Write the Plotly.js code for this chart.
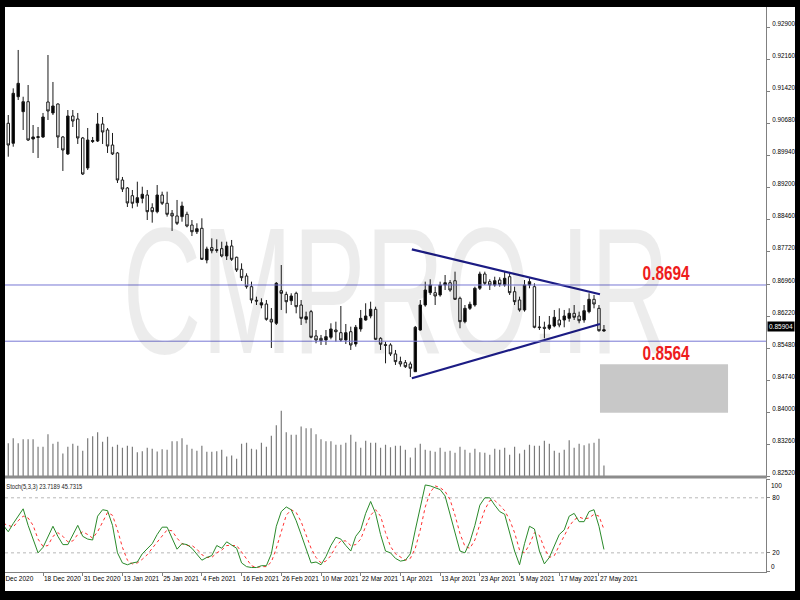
<!DOCTYPE html>
<html><head><meta charset="utf-8">
<script src="https://cdn.plot.ly/plotly-3.0.1.min.js"></script>
<style>html,body{margin:0;padding:0;background:#000;}#chart{width:800px;height:600px;}</style>
</head><body><div id="chart"></div>
<script>
// ---- data (EURGBP daily) ----
const decDays = ["08","09","10","11","14","15","16","17","18","21","22","23","24","28","29","30","31"];
const janDays = ["04","05","06","07","08","11","12","13","14","15","18","19","20","21","22","25","26","27","28","29"];
const febDays = ["01","02","03","04","05","08","09","10","11","12","15","16","17","18","19","22","23","24","25","26"];
const marDays = ["01","02","03","04","05","08","09","10","11","12","15","16","17","18","19","22","23","24","25","26","29","30","31"];
const aprDays = ["01","02","05","06","07","08","09","12","13","14","15","16","19","20","21","22","23","26","27","28","29","30"];
const mayDays = ["03","04","05","06","07","10","11","12","13","14","17","18","19","20","21","24","25","26","27","28"];
const dates = [].concat(
  decDays.map(d=>"2020-12-"+d), janDays.map(d=>"2021-01-"+d), febDays.map(d=>"2021-02-"+d),
  marDays.map(d=>"2021-03-"+d), aprDays.map(d=>"2021-04-"+d), mayDays.map(d=>"2021-05-"+d));

const tickDates  = ["2020-12-08","2020-12-18","2020-12-31","2021-01-13","2021-01-25","2021-02-04","2021-02-16","2021-02-26","2021-03-10","2021-03-22","2021-04-01","2021-04-13","2021-04-23","2021-05-05","2021-05-17","2021-05-27"];
const tickLabels = ["8 Dec 2020","18 Dec 2020","31 Dec 2020","13 Jan 2021","25 Jan 2021","4 Feb 2021","16 Feb 2021","26 Feb 2021","10 Mar 2021","22 Mar 2021","1 Apr 2021","13 Apr 2021","23 Apr 2021","5 May 2021","17 May 2021","27 May 2021"];

const open = [0.90571,0.90680,0.90217,0.91294,0.90948,0.91179,0.90316,0.90374,0.90363,0.91172,
0.90918,0.91126,0.90363,0.89970,0.90848,0.90779,0.90340,0.89646,0.90258,0.90270,
0.90663,0.90525,0.90177,0.89993,0.89368,0.89183,0.89005,0.88843,0.88945,0.89021,
0.88727,0.88635,0.89021,0.88830,0.88598,0.88536,0.88520,0.88575,0.88327,0.88172,
0.88251,0.87518,0.87803,0.87756,0.87780,0.87611,0.87842,0.87581,0.87303,0.87148,
0.86901,0.86586,0.86477,0.86500,0.86146,0.86054,0.86808,0.86724,0.86577,0.86748,
0.86477,0.86146,0.86323,0.85761,0.85707,0.85668,0.85731,0.85899,0.85837,0.85668,
0.85860,0.85576,0.85923,0.86130,0.86223,0.86378,0.85707,0.85560,0.85553,0.85345,
0.85167,0.85144,0.85113,0.84935,0.85899,0.86477,0.86762,0.86762,0.86709,0.86940,
0.86993,0.87039,0.86632,0.86091,0.86401,0.86477,0.86864,0.87194,0.87017,0.86940,
0.87055,0.86940,0.87132,0.86785,0.86593,0.86362,0.86940,0.86901,0.85969,0.85962,
0.85939,0.85992,0.86130,0.86130,0.86169,0.86285,0.86223,0.86130,0.86323,0.86609,
0.86401,0.85876];
const high = [0.90802,0.90871,0.91488,0.92375,0.91294,0.91565,0.90640,0.90594,0.90918,0.92259,
0.91635,0.91140,0.90386,0.90987,0.90987,0.90918,0.90363,0.90571,0.90363,0.90918,
0.90825,0.90571,0.90456,0.90016,0.89438,0.89206,0.89137,0.89329,0.89213,0.89137,
0.88830,0.89252,0.89098,0.89098,0.88674,0.88906,0.88867,0.88635,0.88443,0.88367,
0.88482,0.87826,0.88019,0.87996,0.87941,0.87941,0.87981,0.87595,0.87441,0.87210,
0.87017,0.86670,0.86632,0.86593,0.86408,0.87009,0.87402,0.86785,0.86748,0.86785,
0.86593,0.86323,0.86362,0.85899,0.85784,0.85899,0.86054,0.86091,0.86454,0.86038,
0.85976,0.86015,0.86362,0.86517,0.86554,0.86438,0.85731,0.85629,0.85592,0.85437,
0.85282,0.85205,0.85167,0.85992,0.86593,0.87017,0.87072,0.86901,0.87017,0.87171,
0.87055,0.87248,0.86670,0.86477,0.86554,0.86901,0.87248,0.87248,0.87072,0.87132,
0.87118,0.87248,0.87210,0.86901,0.86670,0.87055,0.87095,0.86979,0.86223,0.86091,
0.86223,0.86362,0.86401,0.86362,0.86401,0.86477,0.86323,0.86477,0.86748,0.86709,
0.86477,0.86015];
const low = [0.90456,0.89907,0.90138,0.91218,0.90525,0.90270,0.89993,0.89877,0.90340,0.90756,
0.90871,0.90108,0.89577,0.89947,0.90594,0.90201,0.89484,0.89600,0.90224,0.90247,
0.90201,0.89993,0.89947,0.89299,0.89091,0.88744,0.88714,0.88751,0.88830,0.88443,
0.88381,0.88598,0.88790,0.88520,0.88189,0.88327,0.88404,0.88274,0.88073,0.88119,
0.87518,0.87441,0.87673,0.87687,0.87581,0.87518,0.87495,0.87241,0.87032,0.86855,
0.86517,0.86477,0.86401,0.86114,0.85483,0.86015,0.86362,0.86285,0.86477,0.86285,
0.86015,0.86054,0.85707,0.85592,0.85553,0.85553,0.85684,0.85629,0.85629,0.85576,
0.85437,0.85514,0.85860,0.86114,0.86169,0.85668,0.85437,0.85129,0.85298,0.85090,
0.85051,0.85021,0.84813,0.84928,0.85883,0.86438,0.86709,0.86477,0.86670,0.86824,
0.86785,0.86593,0.85939,0.86054,0.86362,0.86438,0.86824,0.86940,0.86824,0.86901,
0.86901,0.86901,0.86709,0.86477,0.86323,0.86323,0.86864,0.85939,0.85899,0.85707,
0.85899,0.85962,0.85962,0.85962,0.86091,0.86130,0.86054,0.86068,0.86285,0.86401,
0.85860,0.85860];
const close = [0.90687,0.90177,0.91373,0.91604,0.91179,0.90293,0.90363,0.90351,0.90825,0.90964,
0.91080,0.90363,0.90062,0.90848,0.90733,0.90340,0.89507,0.90293,0.90281,0.90663,
0.90478,0.90154,0.89970,0.89368,0.89160,0.88837,0.88830,0.88959,0.89038,0.88635,
0.88635,0.89021,0.88830,0.88575,0.88536,0.88367,0.88767,0.88304,0.88172,0.88242,
0.87534,0.87772,0.87733,0.87742,0.87611,0.87842,0.87534,0.87287,0.87109,0.86901,
0.86593,0.86570,0.86530,0.86146,0.86084,0.86979,0.86748,0.86553,0.86686,0.86438,
0.86169,0.86207,0.85731,0.85668,0.85652,0.85745,0.85923,0.85860,0.85668,0.85837,
0.85553,0.85962,0.86169,0.86223,0.86378,0.85684,0.85569,0.85546,0.85345,0.85167,
0.85113,0.85051,0.85014,0.85962,0.86477,0.86824,0.86940,0.86686,0.86940,0.86993,
0.86824,0.86609,0.86091,0.86401,0.86493,0.86864,0.87194,0.86979,0.86940,0.87039,
0.86956,0.87095,0.86762,0.86554,0.86362,0.86940,0.87017,0.85962,0.85955,0.85939,
0.86015,0.86193,0.86015,0.86223,0.86285,0.86193,0.86114,0.86346,0.86609,0.86500,
0.85883,0.85904];
const volume = [100,100,115,100,112,112,112,89,89,127,98,104,69,89,98,92,77,115,121,133,
104,119,89,95,86,92,89,73,76,86,83,75,82,80,106,106,115,95,83,77,
92,74,74,76,80,60,63,53,98,101,83,81,101,89,122,154,197,133,125,125,
150,145,145,127,112,106,106,95,95,101,125,104,86,107,101,101,86,95,88,92,
92,80,57,86,98,80,77,74,86,74,77,71,89,80,71,83,73,71,65,83,
80,86,65,89,69,80,95,92,92,107,98,77,71,80,109,86,98,94,99,101,
113,33];
const stochK = [50,43,52,60,68,50,35,20,26,38, 49,38,29,29,40,50,38,35,34,60,
67,66,50,20,9,7,9,10,19,25, 30,40,48,48,36,24,30,29,25,18,
12,15,17,28,25,32,28,25,9,5, 4,4,6,6,19,49,65,70,67,55,
40,25,9,10,7,16,28,37,35,28, 22,38,45,63,76,63,40,22,20,14,
11,12,19,45,70,94,93,91,89,82, 62,40,22,20,32,50,72,80,80,72,
65,62,41,22,7,30,49,46,22,8, 15,28,40,45,60,63,54,54,65,67,
49,23.7189];
const stochD = [52,50,48,55,60,58,50,35,27,28, 38,42,38,32,33,40,43,40,36,43,
54,64,61,45,26,12,8,9,13,18, 25,32,39,45,44,36,30,28,28,24,
18,15,15,20,23,28,28,28,21,13, 6,4,5,5,10,25,44,61,67,64,
54,40,25,15,9,11,17,27,33,33, 28,29,35,49,61,67,60,42,27,19,
15,12,14,25,45,70,86,93,91,87, 78,61,41,27,25,34,51,67,77,77,
72,66,56,42,23,20,29,42,39,25, 15,17,28,38,49,56,59,57,58,62,
60,45.7315];
const priceTicks = [0.82520,0.83260,0.84000,0.84740,0.85480,0.86220,0.86960,0.87720,0.88460,0.89200,0.89940,0.90680,0.91420,0.92160,0.92900];
const stochTicks = [0,20,80,100];
const stochTickText = ["0","20","80","100"];
const stochLevels = [20,80];
const levels = [0.8694, 0.8564];
const levelLabels = ["0.8694","0.8564"];
const levelLabelY = [0.87234, 0.85390];
const trendUpper = {x:[82.3,120.2], y:[0.87765,0.86725]};
const trendLower = {x:[82.3,120.2], y:[0.84782,0.86038]};
const zone = {x:[120.2,146.0], y:[0.83987,0.85106]};
const lastPrice = 0.85904;
const stochTitle = "Stoch(5,3,3) 23.7189 45.7315";
const watermark = "CMPRO.IR";

// ---- build ----
const idx = dates.map((d,i)=>i);
const tickIdx = tickDates.map(d=>dates.indexOf(d));
const sans = "Liberation Sans, Arial, sans-serif";

const traces = [
  {type:'bar', x:idx, y:volume, xaxis:'x', yaxis:'y2', width:0.24,
   marker:{color:'#7a7a7a', line:{width:0}}, hoverinfo:'skip'},
  {type:'candlestick', x:idx, open:open, high:high, low:low, close:close, xaxis:'x', yaxis:'y',
   whiskerwidth:0,
   increasing:{line:{color:'#1a1a1a', width:1}, fillcolor:'#000000'},
   decreasing:{line:{color:'#1a1a1a', width:1}, fillcolor:'#ffffff'}, hoverinfo:'skip'},
  {type:'scatter', mode:'lines', x:trendUpper.x, y:trendUpper.y, xaxis:'x', yaxis:'y',
   line:{color:'#1c1c84', width:2.2}, hoverinfo:'skip'},
  {type:'scatter', mode:'lines', x:trendLower.x, y:trendLower.y, xaxis:'x', yaxis:'y',
   line:{color:'#1c1c84', width:2.2}, hoverinfo:'skip'},
  {type:'scatter', mode:'lines', x:idx, y:stochD, xaxis:'x', yaxis:'y3',
   line:{color:'#ff3030', width:1, dash:'dot'}, hoverinfo:'skip'},
  {type:'scatter', mode:'lines', x:idx, y:stochK, xaxis:'x', yaxis:'y3',
   line:{color:'#2a8a2a', width:1}, hoverinfo:'skip'}
];

const px2x = p => (p-5)/761;
const py2y = p => (572-p)/565;

const shapes = [
  {type:'rect', xref:'paper', yref:'paper', x0:0, x1:px2x(795), y0:py2y(591), y1:1,
   fillcolor:'#ffffff', line:{width:0}, layer:'below'},
  {type:'rect', xref:'x', yref:'y', x0:zone.x[0], x1:zone.x[1], y0:zone.y[0], y1:zone.y[1],
   fillcolor:'#c8c8c8', line:{width:0}, layer:'below'},
  {type:'rect', xref:'paper', yref:'paper', x0:0, x1:px2x(767), y0:py2y(478.5), y1:py2y(475.5),
   fillcolor:'#8c8c8c', line:{width:0}, layer:'above'}
];
levels.forEach(v=>shapes.push({type:'line', xref:'paper', yref:'y', x0:0, x1:1, y0:v, y1:v,
   line:{color:'#7777d4', width:1}, layer:'above'}));
stochLevels.forEach(v=>shapes.push({type:'line', xref:'paper', yref:'y3', x0:0, x1:1, y0:v, y1:v,
   line:{color:'#b8b8b8', width:1, dash:'dot'}, layer:'below'}));

// text widths (px) to squeeze condensed texts like the reference
const squeeze = {};
squeeze[watermark] = 547;
squeeze[stochTitle] = 76;
levelLabels.forEach(t=>squeeze[t]=47);

const annotations = [
  {xref:'paper', yref:'paper', x:px2x(396), y:py2y(290), text:watermark, showarrow:false,
   xanchor:'center', yanchor:'middle', font:{family:sans, size:180, color:'rgba(0,0,0,0.075)'}},
  {xref:'paper', yref:'paper', x:px2x(-2), y:py2y(578.5), text:tickLabels[0], showarrow:false,
   xanchor:'left', yanchor:'middle', font:{family:sans, size:6.5, color:'#000'}},
  {xref:'paper', yref:'paper', x:px2x(44.5), y:py2y(487), text:stochTitle, showarrow:false,
   xanchor:'center', yanchor:'middle', font:{family:sans, size:7, color:'#222'}},
  {xref:'paper', yref:'y', x:1, y:lastPrice, yshift:3, xshift:1, text:lastPrice.toFixed(5), showarrow:false,
   xanchor:'left', yanchor:'middle', bgcolor:'#000', borderpad:1, font:{family:sans, size:6.5, color:'#fff'}},
  {xref:'paper', yref:'paper', x:1, xshift:3, y:py2y(485), text:stochTickText[3], showarrow:false,
   xanchor:'left', yanchor:'middle', font:{family:sans, size:6.5, color:'#000'}},
  {xref:'paper', yref:'paper', x:1, xshift:3, y:py2y(566), text:stochTickText[0], showarrow:false,
   xanchor:'left', yanchor:'middle', font:{family:sans, size:6.5, color:'#000'}}
];
levelLabels.forEach((t,k)=>annotations.push({xref:'x', yref:'y', x:133.7, y:levelLabelY[k], text:t, showarrow:false,
   xanchor:'center', yanchor:'middle', font:{family:sans, size:21, weight:'bold', color:'#ee1c1c'}}));

const layout = {
  width:800, height:600, paper_bgcolor:'#000000', plot_bgcolor:'#ffffff',
  margin:{l:5, r:34, t:7, b:28}, showlegend:false, hovermode:false, dragmode:false,
  xaxis:{type:'linear', range:[(5-3.3)/4.964, (766-3.3)/4.964], anchor:'y3', domain:[0,1],
    rangeslider:{visible:false}, showgrid:false, zeroline:false,
    showline:true, linecolor:'#808080', linewidth:1, tickangle:0,
    tickvals:tickIdx.slice(1), ticktext:tickLabels.slice(1), ticks:'outside', ticklen:3, tickcolor:'#808080',
    ticklabelposition:'outside right', tickfont:{family:sans, size:6.5, color:'#000'}},
  yaxis:{domain:[py2y(476.5),1], range:[0.82511,0.93369], side:'right', anchor:'x',
    showgrid:false, zeroline:false, showline:true, linecolor:'#808080', linewidth:1,
    tickvals:priceTicks, tickformat:'.5f', ticks:'outside', ticklen:3, tickcolor:'#808080',
    ticklabelshift:-3, ticklabelstandoff:1, tickfont:{family:sans, size:6.3, color:'#000'}},
  yaxis2:{overlaying:'y', range:[0,1408], visible:false, anchor:'x'},
  yaxis3:{domain:[0,py2y(479)], range:[-0.87,100.5], side:'right', anchor:'x',
    showgrid:false, zeroline:false, showline:true, linecolor:'#808080', linewidth:1,
    tickvals:stochTicks, ticktext:["","20","80",""], ticks:'outside', ticklen:3, tickcolor:'#808080',
    ticklabelstandoff:1, tickfont:{family:sans, size:6.5, color:'#000'}},
  shapes:shapes, annotations:annotations
};

Plotly.newPlot('chart', traces, layout, {staticPlot:true, displayModeBar:false}).then(()=>{
  document.querySelectorAll('.annotation-text').forEach(t=>{
    const w = squeeze[t.textContent];
    if(w){
      t.setAttribute('textLength', String(w));
      t.setAttribute('lengthAdjust','spacingAndGlyphs');
    }
  });
});
</script></body></html>
